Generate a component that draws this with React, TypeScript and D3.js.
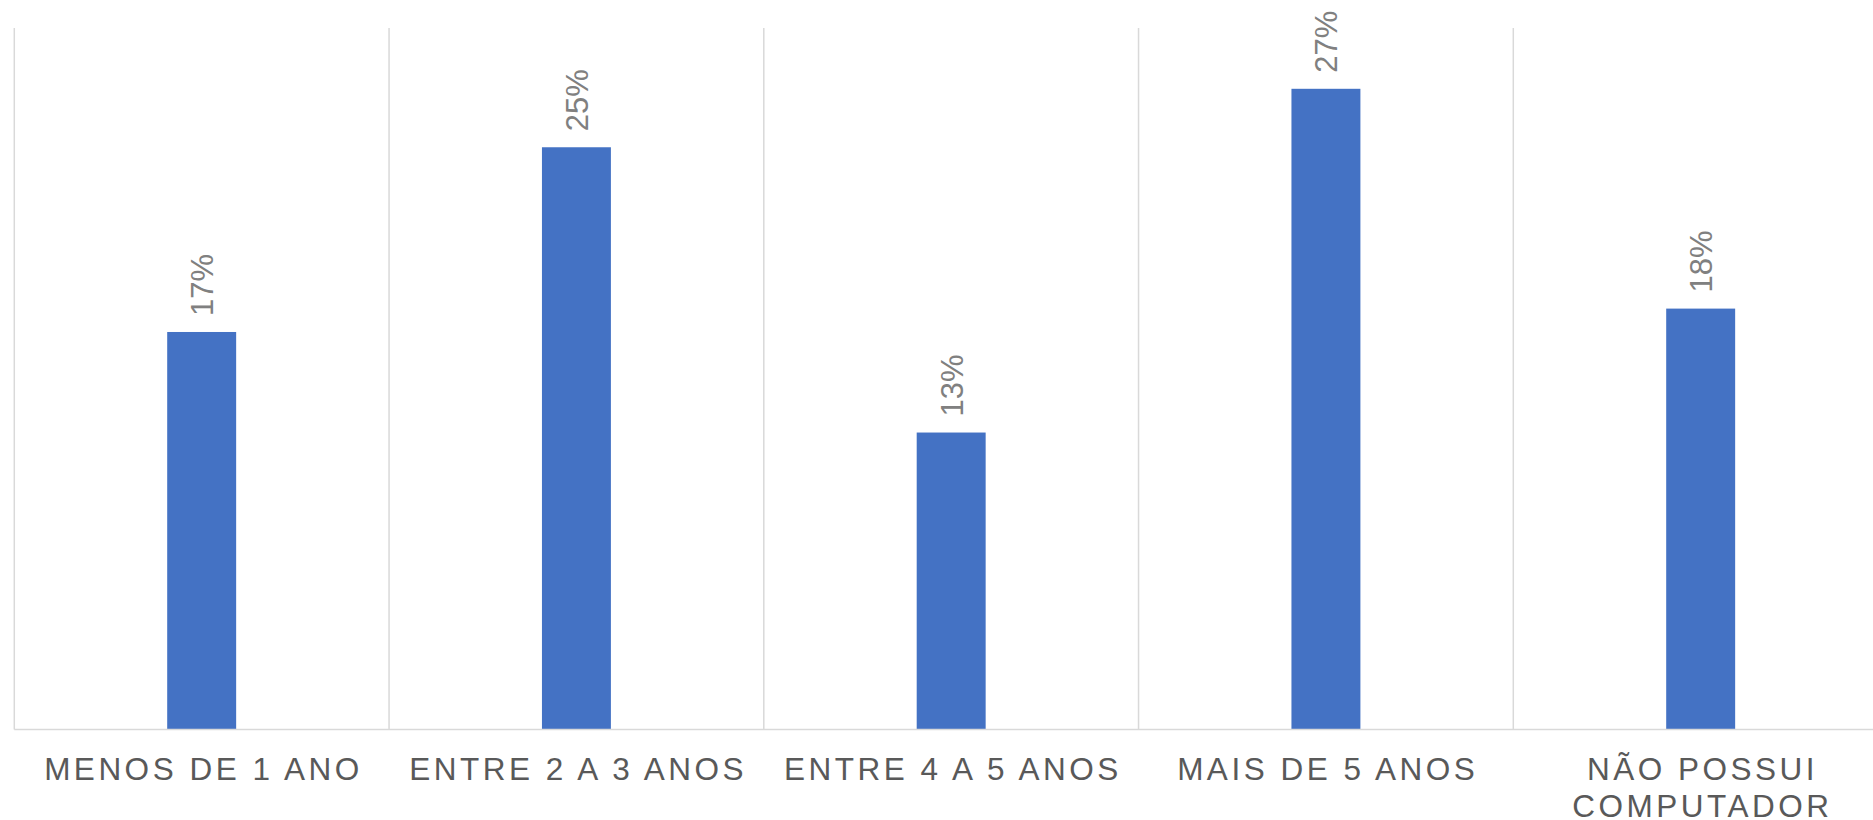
import { useEffect, useRef } from "react";
import * as d3 from "d3";

// values (percent of respondents)
const categories: string[] = [
  "MENOS DE 1 ANO",
  "ENTRE 2 A 3 ANOS",
  "ENTRE 4 A 5 ANOS",
  "MAIS DE 5 ANOS",
  "NÃO POSSUI COMPUTADOR",
];
const shares: number[] = [17.0, 24.9, 12.7, 27.4, 18.0];
const yDomain: number[] = [0, 30];

const WIDTH = 1873;
const HEIGHT = 820;

function wrap(sel: d3.Selection<SVGTextElement, string, SVGGElement, unknown>, maxWidth: number, lineHeight: number) {
  sel.each(function () {
    const text = d3.select(this);
    const words = text.text().split(/\s+/);
    const x = text.attr("x");
    const y = text.attr("y");
    const dx = text.attr("dx");
    text.text(null);
    let line: string[] = [];
    let lineNo = 0;
    let tspan = text.append("tspan").attr("x", x).attr("y", y).attr("dx", dx);
    words.forEach((word) => {
      line.push(word);
      tspan.text(line.join(" "));
      const node = tspan.node() as SVGTSpanElement;
      if (node.getComputedTextLength() > maxWidth && line.length > 1) {
        line.pop();
        tspan.text(line.join(" "));
        line = [word];
        lineNo++;
        tspan = text
          .append("tspan")
          .attr("x", x)
          .attr("y", +y + lineNo * lineHeight)
          .attr("dx", dx)
          .text(word);
      }
    });
  });
}

export default function App() {
  const svgRef = useRef<SVGSVGElement | null>(null);

  useEffect(() => {
    const svg = d3.select(svgRef.current);
    svg.selectAll("*").remove();

    const left = 14.3;
    const step = 374.75;
    const top = 28;
    const baseline = 729.5;

    const x = d3
      .scaleBand<string>()
      .domain(categories)
      .range([left, left + step * categories.length])
      .padding(0);

    const y = d3.scaleLinear().domain(yDomain).range([baseline, top]);

    const barW = x.bandwidth() * 0.184;
    const gridColor = "#d9d9d9";

    // vertical dividers between categories
    const edges = categories.map((c) => x(c) as number).concat([x.range()[1]]);
    svg
      .append("g")
      .selectAll("line")
      .data(edges)
      .enter()
      .append("line")
      .attr("x1", (d) => d)
      .attr("x2", (d) => d)
      .attr("y1", top)
      .attr("y2", baseline)
      .attr("stroke", gridColor)
      .attr("stroke-width", 1.5);

    // bars
    svg
      .append("g")
      .selectAll("rect")
      .data(shares)
      .enter()
      .append("rect")
      .attr("x", (d, i) => (x(categories[i]) as number) + x.bandwidth() / 2 - barW / 2)
      .attr("y", (d) => y(d))
      .attr("width", barW)
      .attr("height", (d) => baseline - y(d))
      .attr("fill", "#4472C4");

    // category axis line
    svg
      .append("line")
      .attr("x1", left)
      .attr("x2", x.range()[1])
      .attr("y1", baseline)
      .attr("y2", baseline)
      .attr("stroke", gridColor)
      .attr("stroke-width", 1.5);

    // rotated data labels
    svg
      .append("g")
      .selectAll("text")
      .data(shares)
      .enter()
      .append("text")
      .attr("transform", (d, i) => {
        const cx = (x(categories[i]) as number) + x.bandwidth() / 2 + 11.5;
        return `translate(${cx},${y(d) - 16}) rotate(-90)`;
      })
      .attr("font-family", "'Liberation Sans', Arial, sans-serif")
      .attr("font-size", 31)
      .attr("fill", "#808080")
      .text((d) => `${Math.round(d)}%`);

    // category labels
    const spacing = 3.5;
    const catText = svg
      .append("g")
      .selectAll<SVGTextElement, string>("text")
      .data(categories)
      .enter()
      .append("text")
      .attr("x", (d) => (x(d) as number) + x.bandwidth() / 2)
      .attr("y", 779.5)
      .attr("dx", spacing / 2)
      .attr("text-anchor", "middle")
      .attr("font-family", "'Liberation Sans', Arial, sans-serif")
      .attr("font-size", 31.5)
      .attr("letter-spacing", spacing)
      .attr("fill", "#595959")
      .text((d) => d);

    wrap(catText as any, x.bandwidth() - 10, 37.5);
  }, []);

  return (
    <div style={{ position: "absolute", left: 0, top: 0 }}>
      <svg
        ref={svgRef}
        width={WIDTH}
        height={HEIGHT}
        style={{ display: "block", background: "#ffffff" }}
      />
    </div>
  );
}
